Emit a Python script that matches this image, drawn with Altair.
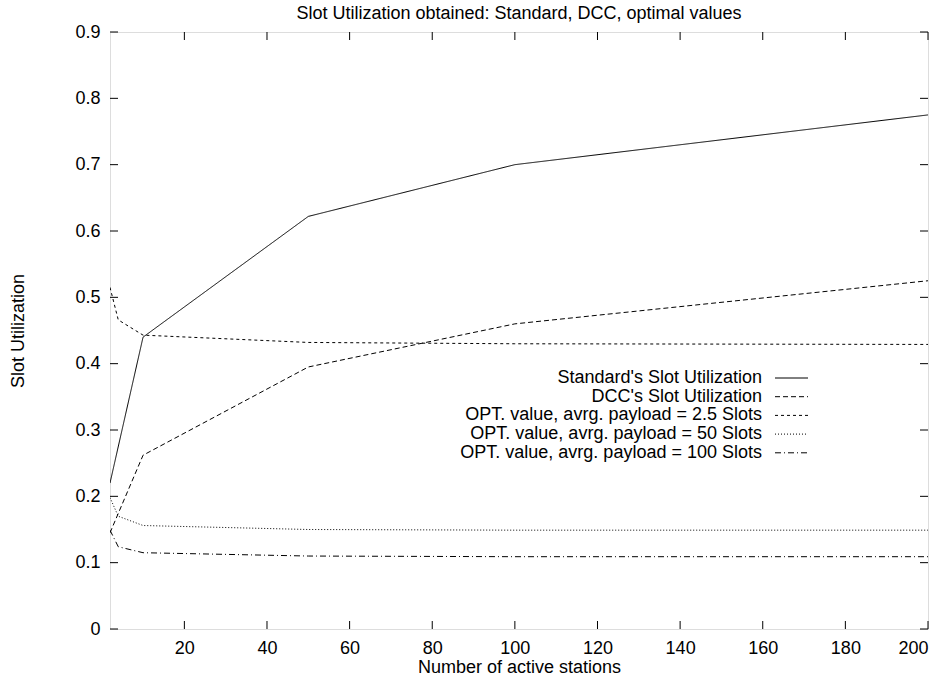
import altair as alt
import pandas as pd

# ---- data ----
series_names = [
    "Standard's Slot Utilization",
    "DCC's Slot Utilization",
    "OPT. value, avrg. payload = 2.5 Slots",
    "OPT. value, avrg. payload = 50 Slots",
    "OPT. value, avrg. payload = 100 Slots",
]
x_std = [2, 10, 50, 100, 200]
y_standard = [0.22, 0.44, 0.622, 0.70, 0.775]
y_dcc = [0.145, 0.262, 0.395, 0.46, 0.525]
x_opt = [2, 4, 10, 50, 100, 200]
y_opt25 = [0.515, 0.466, 0.443, 0.432, 0.430, 0.429]
y_opt50 = [0.198, 0.170, 0.156, 0.150, 0.149, 0.149]
y_opt100 = [0.149, 0.124, 0.115, 0.110, 0.109, 0.109]

x_ticks = [20, 40, 60, 80, 100, 120, 140, 160, 180, 200]
y_ticks = [0, 0.1, 0.2, 0.3, 0.4, 0.5, 0.6, 0.7, 0.8, 0.9]

title_text = "Slot Utilization obtained: Standard, DCC, optimal values"
x_title = "Number of active stations"
y_title = "Slot Utilization"

# ---- styles ----
FONT = "Liberation Sans"
FS = 18
W, H = 818, 597
dashes = [[1, 0], [5, 3], [3, 3], [1, 2], [6, 3, 1, 3]]

rows = []
for xs, ys, name in [
    (x_std, y_standard, series_names[0]),
    (x_std, y_dcc, series_names[1]),
    (x_opt, y_opt25, series_names[2]),
    (x_opt, y_opt50, series_names[3]),
    (x_opt, y_opt100, series_names[4]),
]:
    for a, b in zip(xs, ys):
        rows.append({"x": a, "y": b, "series": name})
df = pd.DataFrame(rows)

xscale = alt.Scale(domain=[2, 200], nice=False, zero=False)
yscale = alt.Scale(domain=[0, 0.9], nice=False)
dash_scale = alt.Scale(domain=series_names, range=dashes)

lines = alt.Chart(df).mark_line(color="black", strokeWidth=1, clip=True).encode(
    x=alt.X("x:Q", scale=xscale,
            axis=alt.Axis(values=x_ticks, title=x_title, ticks=False, tickSize=0,
                          domain=False, grid=False, labelPadding=10, titlePadding=1,
                          labelFontSize=FS, titleFontSize=FS, labelFont=FONT,
                          titleFont=FONT, titleFontWeight="normal",
                          labelColor="black", titleColor="black")),
    y=alt.Y("y:Q", scale=yscale,
            axis=alt.Axis(values=y_ticks, title=y_title, ticks=False, tickSize=0,
                          domain=False, grid=False, labelPadding=10, titlePadding=47,
                          format="~g",
                          labelFontSize=FS, titleFontSize=FS, labelFont=FONT,
                          titleFont=FONT, titleFontWeight="normal",
                          labelColor="black", titleColor="black")),
    strokeDash=alt.StrokeDash("series:N", scale=dash_scale, legend=None),
    detail="series:N",
)

xt = pd.DataFrame({"v": x_ticks})
yt = pd.DataFrame({"v": y_ticks})
TL = 8
tick_bottom = alt.Chart(xt).mark_rule(color="black", strokeWidth=1).encode(
    x=alt.X("v:Q", scale=xscale), y=alt.value(H), y2=alt.value(H - TL))
tick_top = alt.Chart(xt).mark_rule(color="black", strokeWidth=1).encode(
    x=alt.X("v:Q", scale=xscale), y=alt.value(0), y2=alt.value(TL))
tick_left = alt.Chart(yt).mark_rule(color="black", strokeWidth=1).encode(
    y=alt.Y("v:Q", scale=yscale), x=alt.value(0), x2=alt.value(TL))
tick_right = alt.Chart(yt).mark_rule(color="black", strokeWidth=1).encode(
    y=alt.Y("v:Q", scale=yscale), x=alt.value(W), x2=alt.value(W - TL))

# ---- key (gnuplot style: label right-aligned, sample on the right) ----
key_layers = []
key_top = 346
key_step = 18.7
for i, name in enumerate(series_names):
    yy = key_top + i * key_step
    kdf = pd.DataFrame({"series": [name]})
    key_layers.append(
        alt.Chart(kdf).mark_text(align="right", baseline="middle", font=FONT,
                                 fontSize=FS, color="black").encode(
            text="series:N", x=alt.value(652), y=alt.value(yy)))
    key_layers.append(
        alt.Chart(kdf).mark_rule(color="black", strokeWidth=1).encode(
            x=alt.value(665), x2=alt.value(698), y=alt.value(yy),
            strokeDash=alt.StrokeDash("series:N", scale=dash_scale, legend=None)))

chart = alt.layer(lines, tick_bottom, tick_top, tick_left, tick_right, *key_layers).properties(
    width=W, height=H,
    title=alt.TitleParams(title_text, font=FONT, fontSize=FS, fontWeight="normal",
                          color="black", offset=0, anchor="middle"),
    autosize=alt.AutoSizeParams(type="none"),
    padding={"left": 110, "top": 32, "right": 17, "bottom": 51},
).configure_view(stroke="black", strokeWidth=1.5).configure(background="white")

chart.save("out.html", embed_options={"renderer": "svg", "actions": False})
